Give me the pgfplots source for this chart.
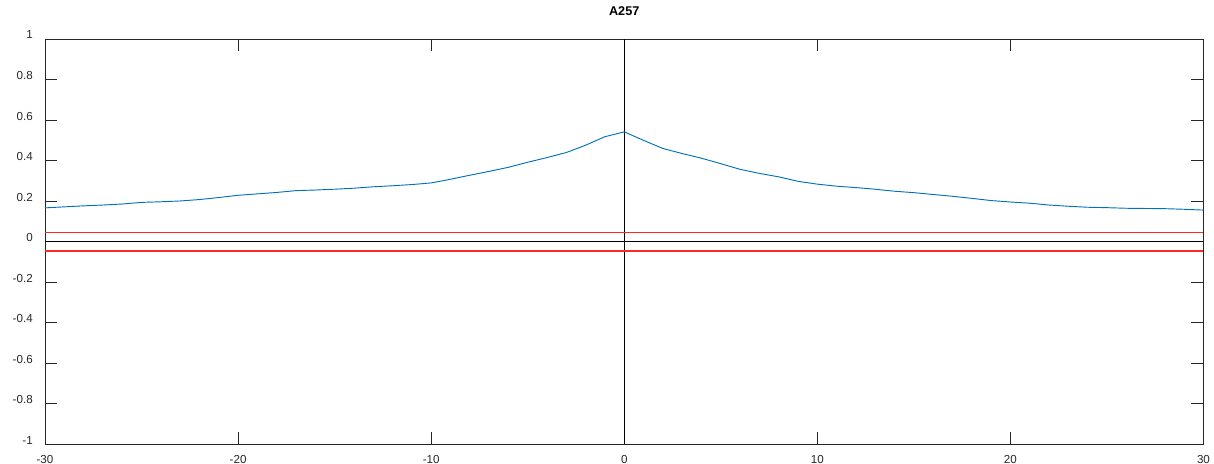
\documentclass[border=0pt]{standalone}
\usepackage{pgfplots}
\pgfplotsset{compat=1.18}
\usepackage{fontspec}
\setmainfont{Liberation Sans}
\definecolor{mblue}{rgb}{0,0.447,0.741}
\definecolor{mred}{rgb}{1,0.15,0.15}
\definecolor{axgray}{rgb}{0.15,0.15,0.15}
\begin{document}
\begin{tikzpicture}
\begin{axis}[
  name=ax,
  scale only axis,
  width=868.9pt, height=304.1pt,
  xmin=-30, xmax=30, ymin=-1, ymax=1,
  xtick={-30,-20,...,30},
  ytick={-1,-0.8,...,1.01},
  tick align=inside,
  major tick length=9pt,
  axis line style={axgray, line width=0.6pt},
  every tick/.style={axgray, line width=0.6pt},
  tick label style={font=\fontsize{8.7}{10}\selectfont, text=axgray, inner sep=0pt},
  /pgf/number format/assume math mode=true,
  yticklabel style={anchor=base east, xshift=-9pt},
  xticklabel style={anchor=north, yshift=-7.9pt},
  yticklabel={\pgfmathprintnumber[fixed,precision=1]{\tick}},
  title={A257},
  title style={font=\fontsize{9.5}{11}\selectfont\bfseries, at={(0.5,1)}, anchor=base, yshift=11.75pt, inner sep=0pt},
  clip=false,
]
\addplot[black, line width=0.6pt] coordinates {(-30,0) (30,0)};
\addplot[black, line width=0.6pt] coordinates {(0,-1) (0,1)};
\addplot[draw=mred, line width=1.1pt] coordinates {(-30,-0.0465) (30,-0.0465)};
\addplot[draw=mred, line width=0.9pt] coordinates {(-30,0.047) (30,0.047)};
\addplot[mblue, line width=0.7pt] coordinates {
(-30,0.167) (-29,0.172) (-28,0.177) (-27,0.181) (-26,0.186) (-25,0.194)
(-24,0.197) (-23,0.201) (-22,0.208) (-21,0.218) (-20,0.229) (-19,0.236)
(-18,0.243) (-17,0.252) (-16,0.255) (-15,0.259) (-14,0.264) (-13,0.271)
(-12,0.276) (-11,0.282) (-10,0.290) (-9,0.308) (-8,0.328) (-7,0.347)
(-6,0.367) (-5,0.392) (-4,0.415) (-3,0.440) (-2,0.476) (-1,0.518)
(0,0.542) (1,0.500) (2,0.460) (3,0.435) (4,0.412) (5,0.385)
(6,0.357) (7,0.337) (8,0.320) (9,0.298) (10,0.284) (11,0.274)
(12,0.267) (13,0.259) (14,0.249) (15,0.242) (16,0.233) (17,0.224)
(18,0.214) (19,0.203) (20,0.196) (21,0.190) (22,0.181) (23,0.175)
(24,0.170) (25,0.168) (26,0.165) (27,0.164) (28,0.163) (29,0.160)
(30,0.156)};
\end{axis}
\pgfresetboundingbox
\path ([xshift=-33.75pt,yshift=-14.6pt]ax.south west) rectangle ([xshift=7.9pt,yshift=29.25pt]ax.north east);
\end{tikzpicture}
\end{document}
